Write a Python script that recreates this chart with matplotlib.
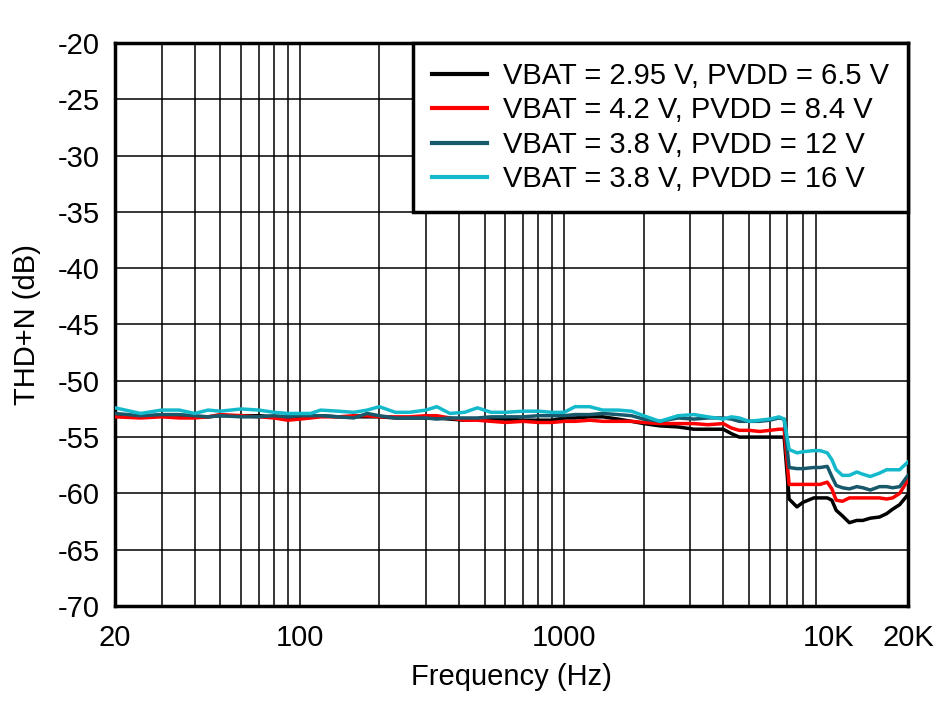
import matplotlib
matplotlib.use("Agg")
import matplotlib.pyplot as plt
from matplotlib.ticker import FixedLocator, NullFormatter, NullLocator

plt.rcParams['font.family'] = ['Liberation Sans', 'DejaVu Sans']

freq = [20, 25, 30, 35, 40, 45, 50, 60, 70, 80, 90, 100, 110, 120, 140, 160, 180, 200,
        230, 260, 300, 330, 370, 420, 470, 530, 600, 700, 800, 900, 1000, 1100, 1250,
        1400, 1600, 1800, 2000, 2300, 2700, 3100, 3500, 4000, 4300, 4600, 5000, 5500,
        6000, 6500, 6800, 7100, 7600, 8000, 8800, 9300, 9900, 10300, 10700, 11300,
        12000, 12800, 13500, 14400, 15600, 16600, 17500, 18600, 20000]

thd_295_65 = [-53.1, -53.2, -53.1, -53.1, -53.2, -53.2, -53.1, -53.1, -53.1, -53.2, -53.3, -53.2,
              -53.2, -53.1, -53.2, -53.2, -53.2, -53.2, -53.3, -53.3, -53.3, -53.3, -53.4, -53.5,
              -53.4, -53.4, -53.4, -53.5, -53.5, -53.5, -53.3, -53.3, -53.2, -53.2, -53.4, -53.6,
              -53.8, -54.0, -54.1, -54.3, -54.3, -54.3, -54.7, -55.0, -55.0, -55.0, -55.0, -55.0,
              -55.0, -60.5, -61.2, -60.8, -60.4, -60.4, -60.4, -60.6, -61.5, -62.0, -62.6, -62.4,
              -62.4, -62.2, -62.1, -61.8, -61.4, -61.0, -60.1]

thd_42_84 = [-53.2, -53.3, -53.2, -53.3, -53.3, -53.2, -53.0, -53.1, -53.2, -53.3, -53.5, -53.4,
             -53.3, -53.2, -53.2, -53.1, -53.1, -53.2, -53.2, -53.2, -53.1, -53.1, -53.3, -53.5,
             -53.5, -53.6, -53.7, -53.6, -53.7, -53.7, -53.6, -53.6, -53.5, -53.6, -53.6, -53.6,
             -53.7, -53.8, -53.8, -53.8, -53.9, -53.8, -54.2, -54.4, -54.4, -54.5, -54.4, -54.3,
             -54.3, -59.2, -59.2, -59.2, -59.2, -59.2, -59.0, -59.6, -60.6, -60.7, -60.4, -60.4,
             -60.4, -60.4, -60.4, -60.5, -60.4, -60.0, -58.8]

thd_38_12 = [-52.9, -53.1, -53.0, -53.0, -53.1, -53.2, -53.1, -53.2, -53.2, -53.1, -53.2, -53.1,
             -53.1, -53.1, -53.2, -53.3, -52.9, -53.1, -53.3, -53.3, -53.3, -53.4, -53.3, -53.3,
             -53.3, -53.2, -53.2, -53.2, -53.1, -53.1, -53.1, -53.0, -53.0, -52.9, -53.0, -53.1,
             -53.4, -53.6, -53.3, -53.4, -53.3, -53.3, -53.4, -53.6, -53.6, -53.6, -53.5, -53.3,
             -53.4, -57.7, -57.8, -57.8, -57.7, -57.7, -57.6, -58.5, -59.3, -59.5, -59.6, -59.4,
             -59.5, -59.7, -59.4, -59.4, -59.5, -59.4, -58.4]

thd_38_16 = [-52.4, -52.9, -52.6, -52.6, -52.9, -52.6, -52.7, -52.5, -52.6, -52.8, -52.9, -52.9,
             -52.9, -52.6, -52.7, -52.8, -52.6, -52.3, -52.8, -52.8, -52.6, -52.3, -52.9, -52.8,
             -52.4, -52.8, -52.8, -52.7, -52.7, -52.8, -52.8, -52.3, -52.3, -52.6, -52.6, -52.7,
             -53.1, -53.6, -53.1, -53.0, -53.2, -53.4, -53.2, -53.3, -53.6, -53.5, -53.4, -53.2,
             -53.4, -56.1, -56.4, -56.3, -56.2, -56.2, -56.4, -57.0, -57.9, -58.4, -58.4, -58.1,
             -58.3, -58.5, -58.2, -57.9, -57.9, -57.9, -57.2]

labels = ["VBAT = 2.95 V, PVDD = 6.5 V", "VBAT = 4.2 V, PVDD = 8.4 V",
          "VBAT = 3.8 V, PVDD = 12 V", "VBAT = 3.8 V, PVDD = 16 V"]
colors = ["#000000", "#FF0000", "#17596A", "#14B9CB"]

xtick_vals = [20, 100, 1000, 10000, 20000]
xtick_labels = ["20", "100", "1000", "10K", "20K"]
yticks = list(range(-70, -19, 5))

fig = plt.figure(figsize=(9.38, 7.01), dpi=100)
ax = fig.add_axes([115/938, 1-606/701, (908-115)/938, (606-43)/701])

for y, lab, c in zip([thd_295_65, thd_42_84, thd_38_12, thd_38_16], labels, colors):
    ax.plot(freq, y, color=c, lw=2.5, label=lab, zorder=3)

ax.set_xscale('log')
ax.set_xlim(20, 20000)
ax.set_ylim(-70, -20)

grid_x = [v * m for m in (10, 100, 1000) for v in range(1, 10) if 20 <= v * m <= 20000] + [20000]
for gx in grid_x:
    ax.axvline(gx, color='black', lw=1.1, zorder=1)
for gy in yticks:
    ax.axhline(gy, color='black', lw=1.1, zorder=1)

ax.xaxis.set_major_locator(FixedLocator(xtick_vals))
ax.set_xticklabels(xtick_labels)
ax.xaxis.set_minor_locator(NullLocator())
ax.xaxis.set_minor_formatter(NullFormatter())
ax.set_yticks(yticks)
ax.set_yticklabels([str(v) for v in yticks])
ax.tick_params(axis='both', which='both', length=0, labelsize=21)
ax.tick_params(axis='x', pad=13)
ax.tick_params(axis='y', pad=11)

for s in ax.spines.values():
    s.set_linewidth(2.5)

ax.set_xlabel("Frequency (Hz)", fontsize=21, labelpad=8)
ax.set_ylabel("THD+N (dB)", fontsize=21, labelpad=12)

leg = ax.legend(loc='upper right', fontsize=21, frameon=True, fancybox=False,
                borderaxespad=0, handlelength=1.9, handletextpad=0.55,
                labelspacing=0.22, borderpad=0.65)
leg.get_frame().set_edgecolor('black')
leg.get_frame().set_linewidth(2.5)
leg.get_frame().set_alpha(1)
for line in leg.get_lines():
    line.set_linewidth(3)

fig.savefig("out.png", dpi=100)
